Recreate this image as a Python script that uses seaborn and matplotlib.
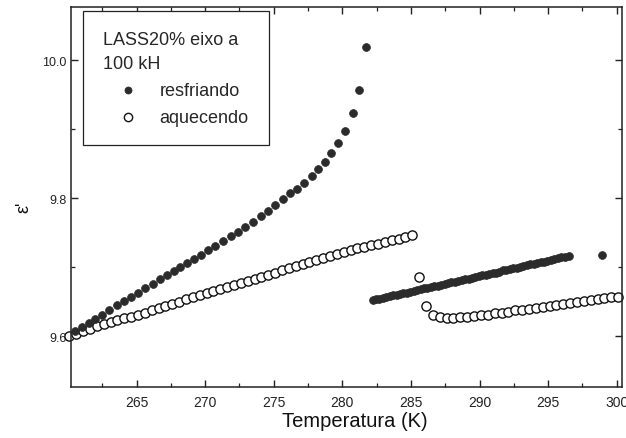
import matplotlib
matplotlib.use("Agg")
import matplotlib.pyplot as plt
import seaborn as sns
import pandas as pd
from matplotlib.ticker import MultipleLocator, FixedLocator

# ---- data: resfriando (filled) ----
t_resf = [260.5, 261.0, 261.5, 262.0, 262.5, 263.0, 263.6, 264.1, 264.6, 265.1,
          265.6, 266.2, 266.7, 267.2, 267.7, 268.2, 268.7, 269.2, 269.7, 270.2,
          270.7, 271.3, 271.9, 272.4, 272.9, 273.5, 274.1, 274.6, 275.1, 275.7,
          276.2, 276.7, 277.2, 277.8, 278.2, 278.7, 279.2, 279.7, 280.2, 280.8,
          281.2, 281.7,
          282.2, 282.45, 282.7, 282.95, 283.2, 283.45, 283.7, 283.95, 284.2, 284.45,
          284.7, 284.95, 285.2, 285.45, 285.7, 285.95, 286.2, 286.45, 286.7, 286.95,
          287.2, 287.45, 287.7, 287.95, 288.2, 288.45, 288.7, 288.95, 289.2, 289.45,
          289.7, 289.95, 290.2, 290.45, 290.7, 290.95, 291.2, 291.45, 291.7, 291.95,
          292.2, 292.45, 292.7, 292.95, 293.2, 293.45, 293.7, 293.95, 294.2, 294.45,
          294.7, 294.95, 295.2, 295.45, 295.7, 295.95, 296.2, 296.5, 298.9]
e_resf = [9.607, 9.613, 9.619, 9.625, 9.631, 9.638, 9.645, 9.651, 9.657, 9.663,
          9.669, 9.676, 9.682, 9.688, 9.694, 9.700, 9.706, 9.712, 9.718, 9.724,
          9.730, 9.738, 9.745, 9.751, 9.758, 9.765, 9.774, 9.781, 9.790, 9.799,
          9.807, 9.813, 9.822, 9.832, 9.842, 9.852, 9.865, 9.880, 9.897, 9.923,
          9.957, 10.019,
          9.652, 9.653, 9.654, 9.655, 9.656, 9.658, 9.659, 9.660, 9.661, 9.662,
          9.663, 9.664, 9.665, 9.666, 9.668, 9.669, 9.670, 9.671, 9.672, 9.673,
          9.674, 9.675, 9.677, 9.678, 9.679, 9.680, 9.681, 9.682, 9.683, 9.684,
          9.686, 9.687, 9.688, 9.689, 9.690, 9.691, 9.692, 9.693, 9.695, 9.696,
          9.697, 9.698, 9.699, 9.700, 9.701, 9.703, 9.704, 9.705, 9.706, 9.707,
          9.708, 9.709, 9.710, 9.712, 9.713, 9.714, 9.715, 9.716, 9.717]

# ---- data: aquecendo (open) ----
t_aq = [260.1, 260.6, 261.1, 261.6, 262.1, 262.6, 263.1, 263.6, 264.1, 264.6,
        265.1, 265.6, 266.1, 266.6, 267.1, 267.6, 268.1, 268.6, 269.1, 269.6,
        270.1, 270.6, 271.1, 271.6, 272.1, 272.6, 273.1, 273.6, 274.1, 274.6,
        275.1, 275.6, 276.1, 276.6, 277.1, 277.6, 278.1, 278.6, 279.1, 279.6,
        280.1, 280.6, 281.1, 281.6, 282.1, 282.6, 283.1, 283.6, 284.1, 284.6,
        285.1,
        285.6, 286.1, 286.6, 287.1, 287.6, 288.1, 288.6, 289.1, 289.6, 290.1,
        290.6, 291.1, 291.6, 292.1, 292.6, 293.1, 293.6, 294.1, 294.6, 295.1,
        295.6, 296.1, 296.6, 297.1, 297.6, 298.1, 298.6, 299.1, 299.6, 300.1]
e_aq = [9.600, 9.603, 9.607, 9.610, 9.614, 9.617, 9.620, 9.623, 9.626, 9.628,
        9.631, 9.634, 9.637, 9.640, 9.644, 9.647, 9.650, 9.653, 9.656, 9.659,
        9.662, 9.665, 9.668, 9.671, 9.674, 9.677, 9.680, 9.683, 9.686, 9.689,
        9.692, 9.695, 9.698, 9.701, 9.704, 9.707, 9.710, 9.713, 9.716, 9.719,
        9.722, 9.724, 9.727, 9.729, 9.732, 9.734, 9.736, 9.739, 9.741, 9.744,
        9.746,
        9.686, 9.643, 9.630, 9.627, 9.626, 9.626, 9.627, 9.628, 9.629, 9.630,
        9.631, 9.633, 9.634, 9.635, 9.637, 9.638, 9.639, 9.641, 9.642, 9.643,
        9.645, 9.646, 9.648, 9.649, 9.651, 9.652, 9.653, 9.655, 9.656, 9.657]

x_ticks = [265, 270, 275, 280, 285, 290, 295, 300]
y_ticks = [9.6, 9.8, 10.0]
y_tick_labels = ["9.6", "9.8", "10.0"]
legend_title = "LASS20% eixo a\n100 kH"
label_resf = "resfriando"
label_aq = "aquecendo"

sns.set_theme(style="white")
plt.rcParams["font.family"] = ["Liberation Sans", "DejaVu Sans"]

fig = plt.figure(figsize=(6.26, 4.39), dpi=100)
ax = fig.add_axes([0.113, 0.116, 0.881, 0.866])

df_r = pd.DataFrame({"T": t_resf, "e": e_resf})
df_a = pd.DataFrame({"T": t_aq, "e": e_aq})

sns.scatterplot(data=df_a, x="T", y="e", ax=ax, marker="o", s=44,
                facecolor="white", edgecolor="#111111", linewidth=1.0,
                label=label_aq, zorder=2, clip_on=False)
sns.scatterplot(data=df_r, x="T", y="e", ax=ax, marker="o", s=32,
                color="#2b2b2b", edgecolor="#2b2b2b", linewidth=0.5,
                label=label_resf, zorder=3, clip_on=False)

ax.set_xlim(260.2, 300.4)
ax.set_ylim(9.526, 10.077)
ax.xaxis.set_major_locator(FixedLocator(x_ticks))
ax.xaxis.set_minor_locator(MultipleLocator(2.5))
ax.yaxis.set_major_locator(FixedLocator(y_ticks))
ax.set_yticklabels(y_tick_labels)
ax.yaxis.set_minor_locator(MultipleLocator(0.1))

ax.tick_params(which="both", direction="in", top=True, right=True,
               bottom=True, left=True, colors="#222222")
ax.tick_params(which="major", length=5, width=1.0)
ax.tick_params(which="minor", length=3, width=0.9)
ax.tick_params(axis="x", which="major", labelsize=10, pad=6)
ax.tick_params(axis="y", which="major", labelsize=9, pad=3)
for sp in ax.spines.values():
    sp.set_color("#222222")
    sp.set_linewidth(1.1)

ax.set_xlabel("Temperatura (K)", fontsize=14.5, color="#111111")
ax.xaxis.set_label_coords(0.515, -0.062)
ax.set_ylabel("ε'", fontsize=13, color="#111111")
ax.yaxis.set_label_coords(-0.07, 0.476)

handles, labels = ax.get_legend_handles_labels()
order = [labels.index(label_resf), labels.index(label_aq)]
leg = ax.legend([handles[i] for i in order], [labels[i] for i in order],
                title=legend_title, loc="upper left",
                bbox_to_anchor=(0.022, 0.99), borderaxespad=0,
                fontsize=13, title_fontsize=13, alignment="left",
                frameon=True, fancybox=False, edgecolor="#222222",
                framealpha=1, handlelength=2.8, handletextpad=0.35,
                labelspacing=0.55, borderpad=1.1, markerscale=0.9)
leg.get_frame().set_linewidth(0.9)
leg.get_title().set_linespacing(1.55)
leg.set_zorder(5)

fig.savefig("out.png", dpi=100)
